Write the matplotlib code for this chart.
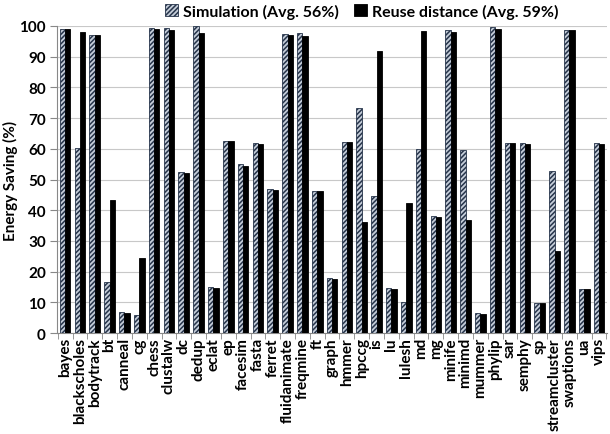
import matplotlib
matplotlib.use("Agg")
import matplotlib.pyplot as plt
import numpy as np

categories = ["bayes", "blackscholes", "bodytrack", "bt", "canneal", "cg", "chess",
              "clustalw", "dc", "dedup", "eclat", "ep", "facesim", "fasta", "ferret",
              "fluidanimate", "freqmine", "ft", "graph", "hmmer", "hpccg", "is", "lu",
              "lulesh", "md", "mg", "minife", "minimd", "mummer", "phylip", "sar",
              "semphy", "sp", "streamcluster", "swaptions", "ua", "vips"]
simulation = [99.1, 60.4, 97.1, 16.5, 6.9, 6.0, 99.2, 99.2, 52.3, 100.0, 15.1, 62.5,
              55.1, 61.8, 46.9, 97.4, 97.7, 46.4, 17.8, 62.3, 73.3, 44.6, 14.6, 10.2,
              60.1, 38.2, 98.7, 59.5, 6.4, 99.8, 61.8, 61.8, 9.9, 52.7, 98.7, 14.5, 61.8]
reuse = [98.9, 98.0, 96.9, 43.2, 6.7, 24.6, 99.1, 98.6, 52.1, 97.6, 14.8, 62.4,
         54.4, 61.7, 46.6, 97.1, 96.6, 46.2, 17.5, 62.1, 36.1, 92.0, 14.4, 42.4,
         98.2, 37.9, 97.9, 36.7, 6.1, 99.0, 61.8, 61.7, 9.7, 26.7, 98.6, 14.3, 61.7]
yticks = list(range(0, 101, 10))

plt.rcParams['font.family'] = ['Lato', 'DejaVu Sans']
plt.rcParams['hatch.linewidth'] = 1.1
plt.rcParams['hatch.color'] = '#26344a'

fig = plt.figure(figsize=(6.1, 4.35), dpi=100)
ax = fig.add_axes([0.0934, 0.232, 0.902, 0.706])

x = np.arange(len(categories))
w = 0.36
b1 = ax.bar(x - w / 2, simulation, w, facecolor='#c4ccd8', edgecolor='#26344a',
            hatch='///////', linewidth=0.6, label='Simulation (Avg. 56%)', zorder=3)
b2 = ax.bar(x + w / 2, reuse, w, color='black', edgecolor='black', linewidth=0.6,
            label='Reuse distance (Avg. 59%)', zorder=3)

ax.set_xlim(-0.55, len(categories) - 0.45)
ax.set_ylim(0, 100)
ax.set_yticks(yticks)
ax.set_yticklabels([str(t) for t in yticks], fontsize=11, fontweight='bold')
ax.set_xticks(x)
ax.set_xticklabels(categories, rotation=90, fontsize=11, fontweight='bold')
ax.tick_params(axis='x', length=0, pad=3)
ax.set_xticks(np.arange(-0.5, len(categories), 1), minor=True)
ax.tick_params(axis='x', which='minor', length=4, color='#888888', direction='out')
ax.tick_params(axis='y', length=5, color='#888888', pad=3)
ax.grid(axis='y', color='#c8c8c8', linewidth=0.8, zorder=0)
for s in ['top', 'right']:
    ax.spines[s].set_visible(False)
ax.spines['left'].set_color('#888888')
ax.spines['bottom'].set_color('#888888')
ax.set_ylabel('Energy Saving (%)', fontsize=11, fontweight='bold', labelpad=1)

fig.legend(handles=[b1, b2], loc='center', bbox_to_anchor=(0.593, 0.972), ncol=2,
           frameon=False, prop={'weight': 'bold', 'size': 11.5},
           handlelength=0.8, handleheight=0.8, handletextpad=0.3, columnspacing=1.0,
           borderpad=0)

fig.savefig('out.png', dpi=100)
